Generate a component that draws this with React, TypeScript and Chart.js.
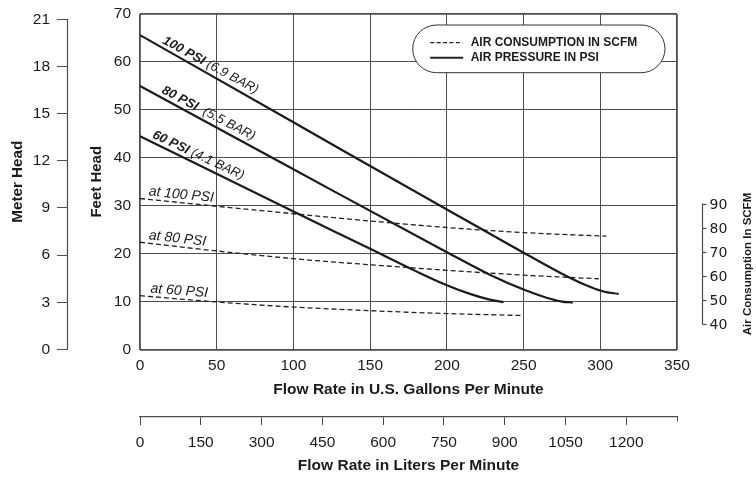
import React, { useEffect, useRef } from "react";
import { Chart, registerables } from "chart.js";

Chart.register(...registerables);

// ---------- axis ticks ----------
const gpmTicks = [0, 50, 100, 150, 200, 250, 300, 350];
const feetTicks = [0, 10, 20, 30, 40, 50, 60, 70];
const meterTicks = [0, 3, 6, 9, 12, 15, 18, 21];
const literTicks = [0, 150, 300, 450, 600, 750, 900, 1050, 1200];
const scfmTicks = [40, 50, 60, 70, 80, 90];

// ---------- air pressure curves (feet head vs GPM) ----------
const psi100Gpm = [0, 100, 200, 250, 275, 290, 302, 312];
const psi100Head = [65.6, 47.4, 29.2, 20.2, 15.8, 13.5, 12.1, 11.6];
const psi80Gpm = [0, 100, 200, 228, 250, 265, 275, 282];
const psi80Head = [55.0, 37.6, 20.3, 15.6, 12.5, 10.8, 10.0, 9.8];
const psi60Gpm = [0, 100, 150, 180, 200, 215, 228, 237];
const psi60Head = [44.5, 28.8, 21.0, 16.3, 13.4, 11.6, 10.4, 9.9];

// ---------- air consumption curves (SCFM vs GPM) ----------
const air100Gpm = [0, 50, 100, 150, 200, 250, 304];
const air100Scfm = [92.1, 88.9, 85.8, 82.8, 80.1, 78.0, 76.5];
const air80Gpm = [0, 50, 100, 150, 200, 250, 299];
const air80Scfm = [74.0, 70.4, 67.2, 64.7, 62.4, 60.4, 58.9];
const air60Gpm = [0, 50, 100, 150, 200, 250];
const air60Scfm = [51.9, 49.3, 47.2, 45.7, 44.5, 43.7];

// ---------- texts ----------
const curveLabels = [
  { bold: "100 PSI", rest: " (6.9 BAR)" },
  { bold: "80 PSI", rest: "  (5.5 BAR)" },
  { bold: "60 PSI", rest: " (4.1 BAR)" },
];
const airLabels = ["at 100 PSI", "at 80 PSI", "at 60 PSI"];
const legendTexts = ["AIR CONSUMPTION IN SCFM", "AIR PRESSURE IN PSI"];

const SANS = '"Liberation Sans", Arial, sans-serif';
const INK = "#1b1b1b";
const GRID = "#4d4d4d";
const FT_PER_M = 3.28084;

function interp(xs: number[], ys: number[], x: number) {
  for (let i = 0; i < xs.length - 1; i++) {
    if (x >= xs[i] && x <= xs[i + 1]) {
      const t = (x - xs[i]) / (xs[i + 1] - xs[i]);
      return ys[i] + t * (ys[i + 1] - ys[i]);
    }
  }
  return ys[ys.length - 1];
}

export default function App() {
  const ref = useRef<HTMLCanvasElement>(null);

  useEffect(() => {
    const canvas = ref.current!;
    const pts = (xs: number[], ys: number[]) => xs.map((x, i) => ({ x, y: ys[i] }));
    const solid = (label: string, xs: number[], ys: number[]) => ({
      label,
      data: pts(xs, ys),
      xAxisID: "x",
      yAxisID: "y",
      borderColor: INK,
      borderWidth: 2.2,
      pointRadius: 0,
      fill: false,
      cubicInterpolationMode: "monotone" as const,
    });
    const dashed = (label: string, xs: number[], ys: number[]) => ({
      label,
      data: pts(xs, ys),
      xAxisID: "x",
      yAxisID: "scfm",
      borderColor: "#222",
      borderWidth: 1.3,
      borderDash: [5, 3],
      pointRadius: 0,
      fill: false,
      cubicInterpolationMode: "monotone" as const,
    });

    const curves = [
      { xs: psi100Gpm, ys: psi100Head, at: 13 },
      { xs: psi80Gpm, ys: psi80Head, at: 12.5 },
      { xs: psi60Gpm, ys: psi60Head, at: 6.5 },
    ];
    const airs = [
      { xs: air100Gpm, ys: air100Scfm, at: 5.2 },
      { xs: air80Gpm, ys: air80Scfm, at: 5.2 },
      { xs: air60Gpm, ys: air60Scfm, at: 6.5 },
    ];

    const overlay = {
      id: "overlay",
      afterDraw(chart: any) {
        const ctx = chart.ctx as CanvasRenderingContext2D;
        const xs = chart.scales.x;
        const ys = chart.scales.y;
        const ms = chart.scales.meter;
        const ss = chart.scales.scfm;
        const ls = chart.scales.xl;
        const area = chart.chartArea;
        ctx.save();

        // meter axis line
        ctx.strokeStyle = GRID;
        ctx.lineWidth = 1.2;
        ctx.beginPath();
        ctx.moveTo(ms.right - 0.5, ms.getPixelForValue(21));
        ctx.lineTo(ms.right - 0.5, ms.getPixelForValue(0));
        ctx.stroke();

        // liters axis short end ticks
        ctx.lineWidth = 1;
        for (const v of [0, ls.max]) {
          const px = Math.round(ls.getPixelForValue(v)) + 0.5;
          ctx.beginPath();
          ctx.moveTo(px, ls.top);
          ctx.lineTo(px, ls.top + 5);
          ctx.stroke();
        }

        // SCFM axis (right)
        const ax = Math.round(area.right + 25) + 0.5;
        const yTop = ss.getPixelForValue(90);
        const yBot = ss.getPixelForValue(40);
        ctx.strokeStyle = GRID;
        ctx.lineWidth = 1.2;
        ctx.beginPath();
        ctx.moveTo(ax, yTop);
        ctx.lineTo(ax, yBot);
        ctx.stroke();
        ctx.fillStyle = INK;
        ctx.font = '14px "DejaVu Sans", sans-serif';
        ctx.textAlign = "left";
        ctx.textBaseline = "middle";
        for (const v of scfmTicks) {
          const py = Math.round(ss.getPixelForValue(v)) + 0.5;
          ctx.beginPath();
          ctx.moveTo(ax, py);
          ctx.lineTo(ax + 4, py);
          ctx.stroke();
          ctx.fillText(String(v), ax + 7, py + 0.5);
        }
        ctx.save();
        ctx.translate(area.right + 71, (yTop + yBot) / 2);
        ctx.rotate(-Math.PI / 2);
        ctx.textAlign = "center";
        ctx.font = "bold 11.5px " + SANS;
        ctx.fillText("Air Consumption In SCFM", 0, 0);
        ctx.restore();

        // curve labels
        curves.forEach((c, i) => {
          const x0 = xs.getPixelForValue(c.at);
          const y0 = ys.getPixelForValue(interp(c.xs, c.ys, c.at));
          const x1 = xs.getPixelForValue(c.at + 60);
          const y1 = ys.getPixelForValue(interp(c.xs, c.ys, c.at + 60));
          const ang = Math.atan2(y1 - y0, x1 - x0) - 0.02;
          ctx.save();
          ctx.translate(x0, y0);
          ctx.rotate(ang);
          ctx.textAlign = "left";
          ctx.textBaseline = "alphabetic";
          ctx.fillStyle = INK;
          ctx.font = "italic bold 13px " + SANS;
          ctx.fillText(curveLabels[i].bold, 0, -4);
          const w = ctx.measureText(curveLabels[i].bold).width;
          ctx.font = "italic 13px " + SANS;
          ctx.fillText(curveLabels[i].rest, w, -4);
          ctx.restore();
        });

        // air labels
        airs.forEach((c, i) => {
          const x0 = xs.getPixelForValue(c.at);
          const y0 = ss.getPixelForValue(interp(c.xs, c.ys, c.at));
          const x1 = xs.getPixelForValue(c.at + 45);
          const y1 = ss.getPixelForValue(interp(c.xs, c.ys, c.at + 45));
          const ang = Math.atan2(y1 - y0, x1 - x0);
          ctx.save();
          ctx.translate(x0, y0);
          ctx.rotate(ang);
          ctx.textAlign = "left";
          ctx.textBaseline = "alphabetic";
          ctx.fillStyle = INK;
          ctx.font = "italic 14px " + SANS;
          ctx.fillText(airLabels[i], 0, -4);
          ctx.restore();
        });

        // legend
        const lx = area.left + 272.7;
        const lw = 252.3;
        const ly = area.top + 11;
        const lh = 47.7;
        ctx.beginPath();
        ctx.roundRect(lx, ly, lw, lh, lh / 2);
        ctx.fillStyle = "#fff";
        ctx.fill();
        ctx.strokeStyle = "#333";
        ctx.lineWidth = 1;
        ctx.stroke();
        const r1 = ly + 17.7;
        const r2 = ly + 32.7;
        ctx.strokeStyle = "#222";
        ctx.lineWidth = 1.3;
        ctx.setLineDash([4, 2.4]);
        ctx.beginPath();
        ctx.moveTo(lx + 17.5, r1);
        ctx.lineTo(lx + 50, r1);
        ctx.stroke();
        ctx.setLineDash([]);
        ctx.lineWidth = 2;
        ctx.beginPath();
        ctx.moveTo(lx + 17.5, r2);
        ctx.lineTo(lx + 50.5, r2);
        ctx.stroke();
        ctx.fillStyle = INK;
        ctx.font = "bold 12px " + SANS;
        ctx.textAlign = "left";
        ctx.textBaseline = "middle";
        ctx.fillText(legendTexts[0], lx + 58, r1);
        ctx.fillText(legendTexts[1], lx + 58, r2);

        ctx.restore();
      },
    };

    const edgeWidth = (edges: number[]) => (c: any) =>
      c.tick && edges.includes(c.tick.value) ? 1.8 : 1;
    const noPad = (s: any) => {
      s.paddingTop = 0;
      s.paddingBottom = 0;
    };

    const tickFont = { family: SANS, size: 15.5 };
    const titleFont = { family: SANS, size: 15.5, weight: "bold" };

    const chart = new Chart(canvas, {
      type: "line",
      data: {
        datasets: [
          solid("100 PSI", psi100Gpm, psi100Head),
          solid("80 PSI", psi80Gpm, psi80Head),
          solid("60 PSI", psi60Gpm, psi60Head),
          dashed("at 100 PSI", air100Gpm, air100Scfm),
          dashed("at 80 PSI", air80Gpm, air80Scfm),
          dashed("at 60 PSI", air60Gpm, air60Scfm),
        ] as any,
      },
      options: {
        animation: false,
        responsive: false,
        maintainAspectRatio: false,
        layout: { padding: { left: 0, top: 14, right: 79, bottom: 0 } },
        plugins: { legend: { display: false }, tooltip: { enabled: false } },
        scales: {
          x: {
            type: "linear",
            position: "bottom",
            weight: 0,
            min: 0,
            max: 350,
            afterBuildTicks: (s: any) => {
              s.ticks = gpmTicks.map((v) => ({ value: v }));
            },
            afterFit: (s: any) => {
              s.height = 67;
            },
            grid: { color: GRID, lineWidth: edgeWidth([0, 350]), drawTicks: false, tickLength: 0 },
            border: { display: false },
            ticks: {
              color: INK,
              font: tickFont,
              padding: 7.2,
              maxRotation: 0,
              autoSkip: false,
              callback: (v: any) => String(v),
            },
            title: {
              display: true,
              text: "Flow Rate in U.S. Gallons Per Minute",
              color: INK,
              font: titleFont,
              padding: { top: 0, bottom: 17 },
            },
          },
          xl: {
            type: "linear",
            position: "bottom",
            weight: 1,
            min: 0,
            max: 1325,
            afterBuildTicks: (s: any) => {
              s.ticks = literTicks.map((v) => ({ value: v }));
            },
            afterFit: (s: any) => {
              s.height = 61.5;
            },
            grid: { drawOnChartArea: false, drawTicks: true, tickLength: 8.5, color: GRID },
            border: { display: true, color: GRID, width: 1.2 },
            ticks: {
              color: INK,
              font: tickFont,
              padding: 8.5,
              maxRotation: 0,
              autoSkip: false,
              callback: (v: any) => String(v),
            },
            title: {
              display: true,
              text: "Flow Rate in Liters Per Minute",
              color: INK,
              font: titleFont,
              padding: { top: 0, bottom: 3 },
            },
          },
          y: {
            type: "linear",
            position: "left",
            weight: 0,
            min: 0,
            max: 70,
            afterBuildTicks: (s: any) => {
              s.ticks = feetTicks.map((v) => ({ value: v }));
            },
            afterFit: (s: any) => {
              s.width = 72;
              noPad(s);
            },
            grid: { color: GRID, lineWidth: edgeWidth([0, 70]), drawTicks: false, tickLength: 0 },
            border: { display: false },
            ticks: {
              color: INK,
              font: tickFont,
              padding: 9,
              callback: (v: any) => String(v),
            },
            title: {
              display: true,
              text: "Feet Head",
              color: INK,
              font: { family: SANS, size: 15, weight: "bold" },
              padding: { top: 19.7, bottom: 0 },
            },
          },
          meter: {
            type: "linear",
            position: "left",
            weight: 1,
            min: 0,
            max: 70 / FT_PER_M,
            afterBuildTicks: (s: any) => {
              s.ticks = meterTicks.map((v) => ({ value: v }));
            },
            afterFit: (s: any) => {
              s.width = 68;
              noPad(s);
            },
            grid: { drawOnChartArea: false, drawTicks: true, tickLength: 11, color: GRID },
            border: { display: false },
            ticks: {
              color: INK,
              font: tickFont,
              padding: 7,
              callback: (v: any) => String(v),
            },
            title: {
              display: true,
              text: "Meter Head",
              color: INK,
              font: { family: SANS, size: 15.2, weight: "bold" },
              padding: { top: 9, bottom: 0 },
            },
          },
          scfm: {
            type: "linear",
            position: "right",
            display: false,
            min: 29.64,
            max: 168.42,
          },
        } as any,
      },
      plugins: [overlay],
    });
    return () => chart.destroy();
  }, []);

  return (
    <div style={{ position: "absolute", left: 0, top: 0, width: 756, height: 478, background: "#fff" }}>
      <canvas ref={ref} width={756} height={478} style={{ display: "block", width: 756, height: 478 }} />
    </div>
  );
}
